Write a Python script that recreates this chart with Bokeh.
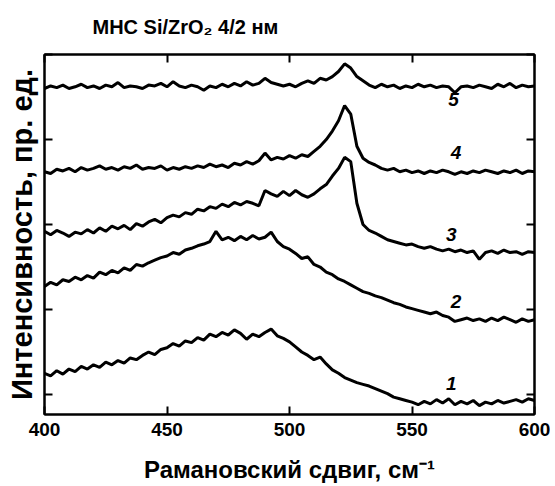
from bokeh.plotting import figure
from bokeh.models import LinearAxis, Range1d, FixedTicker
from bokeh.core.properties import value
from bokeh.embed import file_html
from bokeh.resources import INLINE

# Raman shift grid, cm^-1
shift = [400.0, 402.5, 405.0, 407.5, 410.0, 412.5, 415.0, 417.5, 420.0, 422.5,
         425.0, 427.5, 430.0, 432.5, 435.0, 437.5, 440.0, 442.5, 445.0, 447.5,
         450.0, 452.5, 455.0, 457.5, 460.0, 462.5, 465.0, 467.5, 470.0, 472.5,
         475.0, 477.5, 480.0, 482.5, 485.0, 487.5, 490.0, 492.5, 495.0, 497.5,
         500.0, 502.5, 505.0, 507.5, 510.0, 512.5, 515.0, 517.5, 520.0, 522.5,
         525.0, 527.5, 530.0, 532.5, 535.0, 537.5, 540.0, 542.5, 545.0, 547.5,
         550.0, 552.5, 555.0, 557.5, 560.0, 562.5, 565.0, 567.5, 570.0, 572.5,
         575.0, 577.5, 580.0, 582.5, 585.0, 587.5, 590.0, 592.5, 595.0, 597.5,
         600.0]

spec1 = [0.25, 0.22, 0.28, 0.24, 0.30, 0.27, 0.33, 0.30, 0.35, 0.32,
         0.38, 0.35, 0.40, 0.37, 0.43, 0.41, 0.46, 0.50, 0.47, 0.53,
         0.55, 0.60, 0.57, 0.63, 0.61, 0.67, 0.64, 0.71, 0.68, 0.73,
         0.70, 0.76, 0.72, 0.65, 0.71, 0.68, 0.73, 0.77, 0.69, 0.66,
         0.62, 0.56, 0.50, 0.46, 0.41, 0.44, 0.36, 0.29, 0.25, 0.20,
         0.17, 0.14, 0.12, 0.10, 0.07, 0.04, 0.01, -0.03, -0.05, -0.07,
         -0.09, -0.12, -0.08, -0.11, -0.06, -0.10, -0.05, -0.12, -0.08, -0.11,
         -0.07, -0.13, -0.09, -0.11, -0.07, -0.10, -0.08, -0.06, -0.09, -0.05,
         -0.07]

spec2 = [1.27, 1.32, 1.29, 1.35, 1.33, 1.38, 1.35, 1.40, 1.37, 1.44,
         1.41, 1.46, 1.43, 1.49, 1.46, 1.53, 1.51, 1.55, 1.58, 1.61,
         1.63, 1.67, 1.65, 1.70, 1.72, 1.75, 1.77, 1.80, 1.92, 1.82,
         1.85, 1.81, 1.86, 1.82, 1.87, 1.83, 1.85, 1.91, 1.80, 1.74,
         1.71, 1.66, 1.60, 1.62, 1.53, 1.50, 1.44, 1.41, 1.36, 1.33,
         1.29, 1.25, 1.21, 1.19, 1.16, 1.14, 1.11, 1.08, 1.06, 1.03,
         1.01, 0.99, 0.97, 0.95, 0.97, 0.93, 0.91, 0.86, 0.88, 0.90,
         0.87, 0.89, 0.86, 0.90, 0.87, 0.91, 0.88, 0.85, 0.89, 0.86,
         0.88]

spec3 = [1.92, 1.88, 1.93, 1.90, 1.86, 1.91, 1.89, 1.94, 1.90, 1.96,
         1.92, 1.98, 1.95, 1.99, 1.94, 2.01, 1.98, 2.03, 2.06, 2.02,
         2.08, 2.11, 2.09, 2.14, 2.12, 2.18, 2.16, 2.21, 2.19, 2.24,
         2.21, 2.26, 2.23, 2.27, 2.25, 2.22, 2.40, 2.36, 2.33, 2.39,
         2.34, 2.40, 2.35, 2.32, 2.36, 2.42, 2.47, 2.57, 2.66, 2.79,
         2.74, 2.25, 2.00, 1.93, 1.90, 1.86, 1.82, 1.80, 1.78, 1.76,
         1.77, 1.74, 1.72, 1.74, 1.71, 1.69, 1.71, 1.68, 1.70, 1.67,
         1.69, 1.59, 1.67, 1.69, 1.66, 1.70, 1.67, 1.68, 1.65, 1.68,
         1.67]

spec4 = [2.62, 2.60, 2.65, 2.63, 2.66, 2.62, 2.67, 2.64, 2.66, 2.69,
         2.65, 2.67, 2.64, 2.68, 2.66, 2.70, 2.65, 2.67, 2.66, 2.69,
         2.64, 2.67, 2.65, 2.68, 2.66, 2.69, 2.67, 2.71, 2.68, 2.70,
         2.67, 2.72, 2.70, 2.74, 2.71, 2.75, 2.84, 2.76, 2.79, 2.77,
         2.81, 2.78, 2.82, 2.80, 2.86, 2.92, 3.00, 3.10, 3.22, 3.40,
         3.30, 2.92, 2.78, 2.73, 2.70, 2.66, 2.64, 2.66, 2.62, 2.64,
         2.61, 2.63, 2.60, 2.63, 2.61, 2.64, 2.62, 2.59, 2.62, 2.60,
         2.63, 2.61, 2.64, 2.62, 2.60, 2.63, 2.61, 2.64, 2.60, 2.63,
         2.62]

spec5 = [3.60, 3.63, 3.61, 3.64, 3.60, 3.62, 3.65, 3.61, 3.63, 3.60,
         3.64, 3.62, 3.67, 3.61, 3.63, 3.62, 3.60, 3.64, 3.63, 3.66,
         3.62, 3.68, 3.63, 3.61, 3.64, 3.62, 3.58, 3.63, 3.61, 3.65,
         3.62, 3.66, 3.63, 3.68, 3.64, 3.66, 3.72, 3.67, 3.65, 3.63,
         3.65, 3.62, 3.66, 3.69, 3.66, 3.72, 3.70, 3.74, 3.80, 3.89,
         3.84, 3.74, 3.69, 3.64, 3.61, 3.65, 3.62, 3.64, 3.60, 3.63,
         3.61, 3.65, 3.62, 3.64, 3.61, 3.63, 3.62, 3.55, 3.62, 3.63,
         3.61, 3.64, 3.62, 3.60, 3.65, 3.62, 3.66, 3.61, 3.64, 3.62,
         3.63]

label_text = ["1", "2", "3", "4", "5"]
label_x = [566, 568, 566, 568, 567]
label_y = [0.13, 1.10, 1.88, 2.85, 3.47]

x_ticks = [400, 450, 500, 550, 600]
y_ticks = [0, 1, 2, 3, 4]

title_text = "МНС Si/ZrO₂ 4/2 нм"

FONT = "Liberation Sans"

p = figure(width=550, height=492,
           output_backend="svg", toolbar_location=None,
           x_range=Range1d(400, 600), y_range=Range1d(-0.235, 4.0),
           min_border_left=44, min_border_right=16,
           min_border_top=54, min_border_bottom=78,
           background_fill_color="white", border_fill_color="white")

p.title.text = title_text
p.title.text_font = FONT
p.title.text_font_size = "20px"
p.title.text_font_style = "bold"
p.title.align = "left"
p.title.vertical_align = "top"
p.title.offset = 48
p.title.standoff = 30
p.title.text_color = "black"

p.xgrid.visible = False
p.ygrid.visible = False
p.outline_line_color = "black"
p.outline_line_width = 2

for series in [spec1, spec2, spec3, spec4, spec5]:
    p.line(shift, series, line_color="black", line_width=3)

p.text(x=label_x, y=label_y, text=label_text,
       text_font=value(FONT), text_font_style="bold italic",
       text_font_size="19px", text_align="center", text_baseline="middle",
       text_color="black")

def style_axis(ax):
    ax.axis_line_color = "black"
    ax.axis_line_width = 2
    ax.major_tick_line_color = "black"
    ax.major_tick_line_width = 2
    ax.major_tick_in = 8
    ax.major_tick_out = 0
    ax.minor_tick_line_color = None

def hide_labels(ax):
    ax.major_label_text_color = None
    ax.major_label_text_font_size = "1px"
    ax.major_label_standoff = 0

xa = p.xaxis[0]
xa.ticker = FixedTicker(ticks=x_ticks)
style_axis(xa)
xa.axis_label = "Рамановский сдвиг, см⁻¹"
xa.axis_label_text_font = FONT
xa.axis_label_text_font_style = "bold"
xa.axis_label_text_font_size = "24px"
xa.axis_label_text_color = "black"
xa.axis_label_standoff = 17
xa.major_label_text_font = FONT
xa.major_label_text_font_style = "bold"
xa.major_label_text_font_size = "19px"
xa.major_label_text_color = "black"
xa.major_label_standoff = 8

ya = p.yaxis[0]
ya.ticker = FixedTicker(ticks=y_ticks)
style_axis(ya)
hide_labels(ya)
ya.axis_label = "Интенсивность, пр. ед."
ya.axis_label_text_font = FONT
ya.axis_label_text_font_style = "bold"
ya.axis_label_text_font_size = "29px"
ya.axis_label_text_color = "black"
ya.axis_label_standoff = 7

top = LinearAxis(ticker=FixedTicker(ticks=x_ticks))
style_axis(top)
hide_labels(top)
p.add_layout(top, "above")

right = LinearAxis(ticker=FixedTicker(ticks=y_ticks))
style_axis(right)
hide_labels(right)
p.add_layout(right, "right")

open("out.html", "w").write(file_html(p, INLINE))
